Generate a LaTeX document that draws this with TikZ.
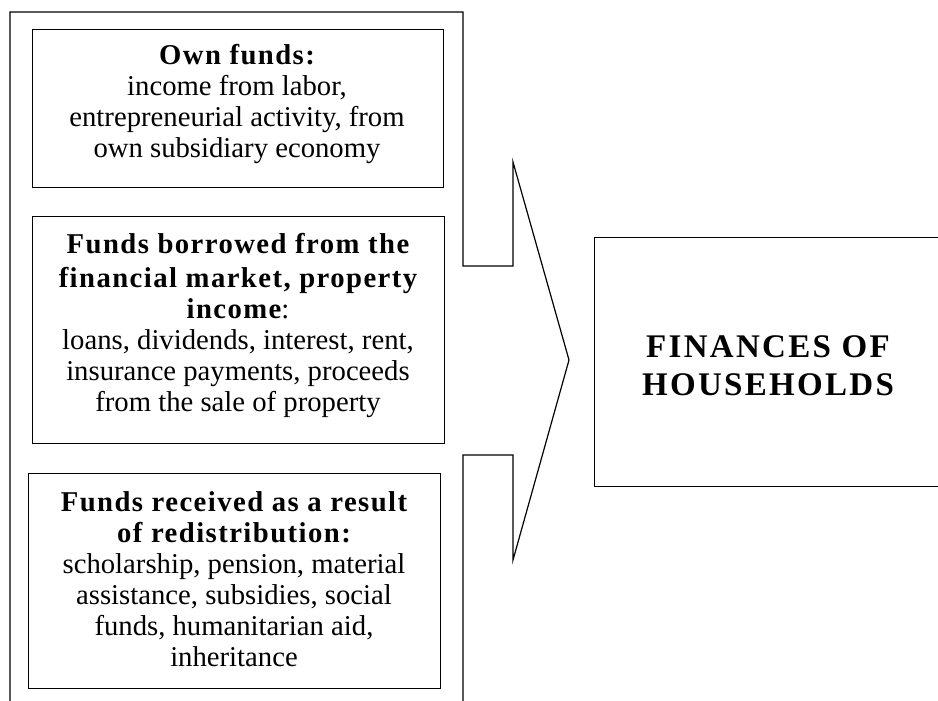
\documentclass[tikz,border=0pt]{standalone}
\usepackage{fontspec}
\setmainfont{Liberation Serif}
\newfontfamily\bsp[LetterSpace=5]{Liberation Serif Bold}
\newfontfamily\bspp[LetterSpace=7]{Liberation Serif Bold}
\begin{document}
\begin{tikzpicture}[x=1pt,y=-1pt,line width=1.2pt,
  box/.style={draw,line width=1.2pt,inner sep=0pt,anchor=north west},
  txt/.style={align=center,inner sep=0pt,anchor=north,font=\fontsize{28.7}{31}\selectfont},
  frame/.style={draw,line width=1.2pt,line join=miter}]
\useasboundingbox (0,0) rectangle (938,701);
% outer frame with arrow
\coordinate (f1) at (10,706);
\coordinate (f2) at (10,12);
\coordinate (f3) at (463,12);
\coordinate (f4) at (463,266);
\coordinate (f5) at (513,266);
\coordinate (f6) at (513,162);
\coordinate (tip) at (569,360);
\coordinate (f8) at (513,560);
\coordinate (f9) at (513,455);
\coordinate (f10) at (463,455);
\coordinate (f11) at (463,706);
\draw[frame] (f1) -- (f2) -- (f3) -- (f4) -- (f5) -- (f6) -- (tip) -- (f8) -- (f9) -- (f10) -- (f11);
% boxes
\node[box,minimum width=411pt,minimum height=158pt] (own) at (32,29) {};
\node[box,minimum width=412pt,minimum height=227pt] (borrowed) at (32,216) {};
\node[box,minimum width=412pt,minimum height=215pt] (redis) at (28,473) {};
\node[box,minimum width=351pt,minimum height=249pt] (fin) at (594,237) {};
% texts
\node[txt] (t1) at (237,43.5) {{\bsp Own funds:}\\income from labor,\\entrepreneurial activity, from\\own subsidiary economy};
\node[txt] (t2) at (238,232.5) {{\bsp Funds borrowed from the}\\[3pt]{\bsp financial market, property}\\{\bsp income}:\\loans, dividends, interest, rent,\\insurance payments, proceeds\\from the sale of property};
\node[txt] (t3) at (234,490.5) {{\bsp Funds received as a result}\\{\bsp of redistribution:}\\scholarship, pension, material\\assistance, subsidies, social\\funds, humanitarian aid,\\inheritance};
\node[align=center,inner sep=0pt,anchor=north,font=\fontsize{33}{38}\selectfont\bspp] (fintxt) at (768,335) {FINANCES OF\\HOUSEHOLDS};
\end{tikzpicture}
\end{document}
